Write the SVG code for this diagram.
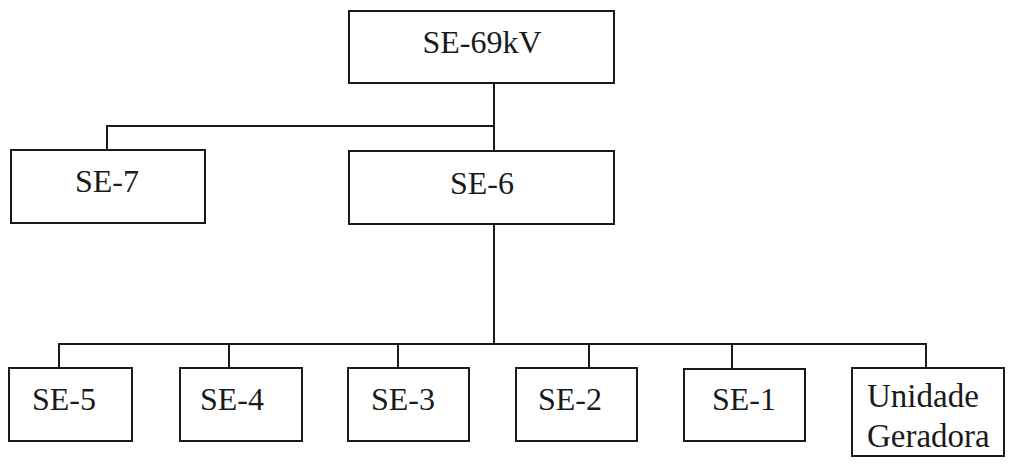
<svg xmlns="http://www.w3.org/2000/svg" width="1013" height="465" viewBox="0 0 1013 465">
<style>
.box{fill:#fff;stroke:#1a1a1a;stroke-width:2}
.lbl{font-family:"Liberation Serif","Times New Roman",serif;font-size:32px;fill:#1a1a1a}
.c{text-anchor:middle}
.wire{fill:none;stroke:#1a1a1a;stroke-width:2}
</style>
<rect width="1013" height="465" fill="#fff"/>
<g id="connectors">
<path class="wire" d="M494 83 V151"/>
<path class="wire" d="M107 150 V126 H494"/>
<path class="wire" d="M494 224 V344"/>
<path class="wire" d="M59 368 V344 H926 V368"/>
<path class="wire" d="M229 344 V368"/>
<path class="wire" d="M398 344 V368"/>
<path class="wire" d="M589 344 V368"/>
<path class="wire" d="M732 344 V369"/>
</g>
<g id="se69"><rect class="box" x="349" y="11" width="265" height="72"/><text class="lbl c" x="482" y="53">SE-69kV</text></g>
<g id="se7"><rect class="box" x="11" y="150" width="194" height="73"/><text class="lbl c" x="107" y="192">SE-7</text></g>
<g id="se6"><rect class="box" x="349" y="151" width="265" height="73"/><text class="lbl c" x="482" y="194">SE-6</text></g>
<g id="se5"><rect class="box" x="9" y="368" width="123" height="73"/><text class="lbl" x="32" y="410">SE-5</text></g>
<g id="se4"><rect class="box" x="180" y="368" width="122" height="73"/><text class="lbl" x="200" y="410">SE-4</text></g>
<g id="se3"><rect class="box" x="348" y="368" width="121" height="73"/><text class="lbl" x="371" y="410">SE-3</text></g>
<g id="se2"><rect class="box" x="516" y="368" width="121" height="73"/><text class="lbl" x="538" y="410">SE-2</text></g>
<g id="se1"><rect class="box" x="684" y="369" width="121" height="72"/><text class="lbl" x="712" y="410">SE-1</text></g>
<g id="ug"><rect class="box" x="852" y="368" width="152" height="88"/><text class="lbl" x="867" y="407" style="font-size:33px">Unidade</text><text class="lbl" x="867" y="447" style="font-size:33px">Geradora</text></g>
</svg>
